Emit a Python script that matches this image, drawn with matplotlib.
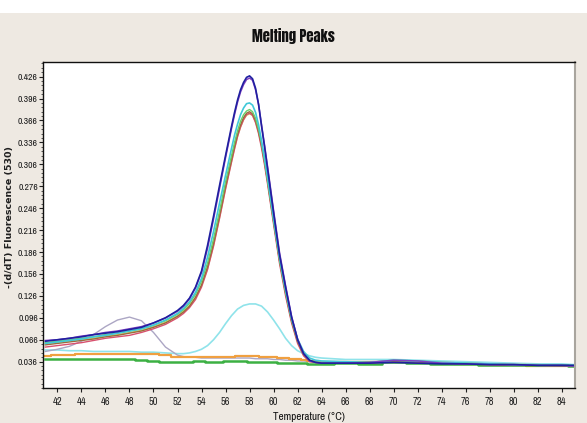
import matplotlib
matplotlib.use("Agg")
import matplotlib.pyplot as plt
from matplotlib import font_manager
from matplotlib.patches import Rectangle
from matplotlib.ticker import AutoMinorLocator

# ---- data -------------------------------------------------------------
# finer temperature grid for the melting-peak curves
temp_peak = [41, 42, 43, 44, 45, 46, 47, 48, 49, 50, 51, 52,
             52.5, 53, 53.5, 54, 54.5, 55, 55.5, 56, 56.5,
             56.75, 57, 57.25, 57.5, 57.75, 58, 58.25, 58.5, 58.75, 59, 59.25,
             59.5, 60, 60.5, 61, 61.5, 62, 62.5, 63, 63.5, 64,
             66, 68, 70, 72, 74, 76, 78, 80, 82, 84, 85]

navy = [0.064, 0.066, 0.068, 0.070, 0.073, 0.075, 0.077, 0.080, 0.083, 0.089, 0.096, 0.106,
        0.113, 0.123, 0.138, 0.160, 0.195, 0.235, 0.277, 0.318, 0.358,
        0.377, 0.394, 0.408, 0.418, 0.425, 0.427, 0.423, 0.410, 0.388, 0.358, 0.330,
        0.300, 0.240, 0.182, 0.138, 0.097, 0.066, 0.047, 0.038, 0.035, 0.034,
        0.034, 0.034, 0.035, 0.034, 0.033, 0.033, 0.032, 0.032, 0.031, 0.031, 0.031]

purple = [0.065, 0.066, 0.068, 0.071, 0.073, 0.076, 0.078, 0.081, 0.084, 0.089, 0.096, 0.105,
          0.112, 0.122, 0.137, 0.158, 0.191, 0.231, 0.273, 0.315, 0.355,
          0.374, 0.391, 0.405, 0.415, 0.422, 0.424, 0.421, 0.408, 0.388, 0.360, 0.332,
          0.303, 0.243, 0.185, 0.140, 0.098, 0.067, 0.047, 0.037, 0.035, 0.034,
          0.034, 0.035, 0.038, 0.037, 0.034, 0.033, 0.032, 0.032, 0.031, 0.031, 0.030]

cyan = [0.061, 0.063, 0.065, 0.067, 0.070, 0.072, 0.075, 0.078, 0.081, 0.086, 0.093, 0.102,
        0.109, 0.118, 0.131, 0.150, 0.179, 0.214, 0.253, 0.291, 0.328,
        0.346, 0.361, 0.374, 0.383, 0.389, 0.390, 0.387, 0.377, 0.360, 0.338, 0.314,
        0.288, 0.232, 0.178, 0.134, 0.095, 0.067, 0.050, 0.041, 0.038, 0.037,
        0.036, 0.035, 0.038, 0.037, 0.035, 0.034, 0.033, 0.032, 0.031, 0.031, 0.031]

brown = [0.059, 0.061, 0.063, 0.065, 0.067, 0.070, 0.072, 0.075, 0.078, 0.083, 0.089, 0.098,
         0.104, 0.112, 0.124, 0.141, 0.166, 0.198, 0.236, 0.276, 0.313,
         0.331, 0.347, 0.360, 0.370, 0.376, 0.378, 0.375, 0.366, 0.351, 0.332, 0.309,
         0.283, 0.228, 0.174, 0.130, 0.092, 0.064, 0.046, 0.037, 0.035, 0.034,
         0.034, 0.035, 0.037, 0.036, 0.034, 0.033, 0.032, 0.031, 0.031, 0.030, 0.030]

rose = [0.056, 0.058, 0.060, 0.062, 0.065, 0.068, 0.070, 0.072, 0.076, 0.081, 0.087, 0.096,
        0.102, 0.110, 0.121, 0.138, 0.162, 0.194, 0.232, 0.272, 0.309,
        0.327, 0.344, 0.357, 0.367, 0.374, 0.376, 0.373, 0.363, 0.348, 0.328, 0.305,
        0.279, 0.224, 0.170, 0.126, 0.089, 0.061, 0.044, 0.036, 0.035, 0.034,
        0.035, 0.034, 0.037, 0.036, 0.034, 0.033, 0.032, 0.031, 0.031, 0.030, 0.030]

olive = [0.060, 0.062, 0.064, 0.066, 0.068, 0.071, 0.073, 0.076, 0.079, 0.084, 0.090, 0.099,
         0.105, 0.113, 0.124, 0.140, 0.163, 0.195, 0.233, 0.273, 0.310,
         0.328, 0.344, 0.357, 0.367, 0.373, 0.375, 0.373, 0.364, 0.350, 0.331, 0.308,
         0.282, 0.227, 0.173, 0.129, 0.091, 0.063, 0.045, 0.037, 0.035, 0.034,
         0.035, 0.034, 0.036, 0.035, 0.034, 0.033, 0.032, 0.031, 0.031, 0.030, 0.030]

lime = [0.062, 0.064, 0.066, 0.068, 0.070, 0.073, 0.075, 0.078, 0.081, 0.086, 0.092, 0.101,
        0.107, 0.116, 0.128, 0.146, 0.171, 0.204, 0.242, 0.282, 0.318,
        0.336, 0.352, 0.365, 0.374, 0.379, 0.381, 0.378, 0.369, 0.354, 0.335, 0.311,
        0.284, 0.229, 0.175, 0.131, 0.093, 0.065, 0.047, 0.038, 0.036, 0.035,
        0.035, 0.035, 0.038, 0.037, 0.035, 0.034, 0.033, 0.032, 0.032, 0.031, 0.031]

# coarser grid for the low, flat curves
temperature = [41, 42, 43, 44, 45, 46, 47, 48, 49, 50, 51, 52,
               52.5, 53, 53.5, 54, 54.5, 55, 55.5, 56, 56.5, 57, 57.5, 58,
               58.5, 59, 59.5, 60, 60.5, 61, 61.5, 62, 62.5, 63, 63.5, 64,
               66, 68, 70, 72, 74, 76, 78, 80, 82, 84, 85]

lilac = [0.050, 0.053, 0.057, 0.064, 0.073, 0.084, 0.093, 0.097, 0.092, 0.076, 0.056, 0.045,
         0.043, 0.042, 0.042, 0.041, 0.041, 0.041, 0.041, 0.041, 0.041, 0.041, 0.041, 0.041,
         0.040, 0.040, 0.040, 0.039, 0.039, 0.038, 0.038, 0.037, 0.037, 0.036, 0.036, 0.036,
         0.036, 0.036, 0.037, 0.036, 0.035, 0.034, 0.033, 0.032, 0.032, 0.031, 0.031]

pale_cyan = [0.052, 0.052, 0.051, 0.051, 0.050, 0.050, 0.050, 0.050, 0.049, 0.049, 0.048, 0.047,
             0.047, 0.048, 0.050, 0.053, 0.058, 0.066, 0.076, 0.088, 0.099, 0.108, 0.113, 0.115,
             0.115, 0.112, 0.104, 0.093, 0.081, 0.068, 0.058, 0.051, 0.047, 0.044, 0.042, 0.041,
             0.039, 0.039, 0.039, 0.038, 0.037, 0.036, 0.035, 0.034, 0.033, 0.033, 0.032]

orange = [0.044, 0.045, 0.045, 0.046, 0.046, 0.046, 0.046, 0.046, 0.046, 0.046, 0.045, 0.043,
          0.043, 0.043, 0.043, 0.043, 0.043, 0.043, 0.043, 0.043, 0.043, 0.044, 0.044, 0.044,
          0.044, 0.043, 0.043, 0.042, 0.041, 0.041, 0.040, 0.039, 0.038, 0.037, 0.037, 0.036,
          0.036, 0.035, 0.036, 0.035, 0.034, 0.033, 0.032, 0.031, 0.030, 0.030, 0.030]

green = [0.040, 0.040, 0.040, 0.039, 0.039, 0.039, 0.039, 0.039, 0.038, 0.037, 0.036, 0.036,
         0.036, 0.036, 0.037, 0.037, 0.036, 0.036, 0.036, 0.037, 0.037, 0.037, 0.037, 0.036,
         0.036, 0.035, 0.035, 0.035, 0.034, 0.034, 0.034, 0.034, 0.034, 0.033, 0.033, 0.033,
         0.034, 0.033, 0.035, 0.034, 0.033, 0.033, 0.032, 0.031, 0.031, 0.031, 0.030]

x_ticks = list(range(42, 85, 2))
y_ticks = [0.036, 0.066, 0.096, 0.126, 0.156, 0.186, 0.216, 0.246,
           0.276, 0.306, 0.336, 0.366, 0.396, 0.426]

# ---- fonts ------------------------------------------------------------
installed = {f.name for f in font_manager.fontManager.ttflist}


def pick(candidates, default="DejaVu Sans"):
    for name in candidates:
        if name in installed:
            return name
    return default


narrow = pick(["Arial Narrow", "Liberation Sans Narrow", "Archivo Narrow",
               "PT Sans Narrow", "IBM Plex Sans Condensed", "Roboto Condensed",
               "Open Sans Condensed"])
heavy = pick(["Impact", "Anton", "IBM Plex Sans Condensed"], narrow)

# ---- figure -----------------------------------------------------------
fig = plt.figure(figsize=(5.87, 4.23), dpi=100, facecolor="white")
fig.patches.append(Rectangle((0, 0), 1, 1 - 13 / 423, transform=fig.transFigure,
                             facecolor="#eee9e2", edgecolor="none", zorder=-10))

ax = fig.add_axes([43 / 587, 35 / 423, (575 - 43) / 587, (388 - 62) / 423])
ax.set_facecolor("white")

low_series = [
    (pale_cyan, "#8fe3ea", 1.2, "default"),
    (lilac, "#aca6c4", 1.0, "default"),
    (orange, "#f0a040", 1.6, "steps-mid"),
    (green, "#3cb043", 1.8, "steps-mid"),
]
for values, color, lw, style in low_series:
    ax.plot(temperature, values, color=color, lw=lw, drawstyle=style)

peak_series = [
    (olive, "#d2cf6a", 1.0),
    (rose, "#d8506e", 1.0),
    (brown, "#9c6a3c", 1.0),
    (lime, "#6ad06a", 1.0),
    (cyan, "#40c8d8", 1.2),
    (purple, "#8040c0", 1.1),
    (navy, "#2020a0", 1.2),
]
for values, color, lw in peak_series:
    ax.plot(temp_peak, values, color=color, lw=lw, solid_joinstyle="round")

ax.set_xlim(40.8, 85.1)
ax.set_ylim(0.0, 0.446)
ax.set_xticks(x_ticks)
ax.set_xticklabels([str(t) for t in x_ticks])
ax.set_yticks(y_ticks)
ax.set_yticklabels([f"{v:.3f}" for v in y_ticks])
ax.yaxis.set_minor_locator(AutoMinorLocator(5))

ax.tick_params(axis="both", which="major", direction="out", length=3, width=0.8,
               labelsize=7.5, colors="#202020")
ax.tick_params(axis="x", which="major", pad=3.5)
ax.tick_params(axis="y", which="major", pad=0.6, labelsize=7)
ax.tick_params(axis="y", which="minor", direction="out", length=1.5, width=0.6,
               colors="#404040")
for lab in ax.get_xticklabels() + ax.get_yticklabels():
    lab.set_family(narrow)

for side in ("left", "bottom", "top"):
    ax.spines[side].set_color("#101010")
    ax.spines[side].set_linewidth(1.0)
ax.spines["right"].set_color("#a9a59e")
ax.spines["right"].set_linewidth(1.5)

fig.text(293 / 587, 1 - 36 / 423, "Melting Peaks", ha="center", va="center",
         fontsize=10.5, fontweight="bold", family=heavy, color="#101010")
fig.text(309 / 587, 1 - 417 / 423, "Temperature (°C)", ha="center", va="center",
         fontsize=8, family=narrow, color="#101010")
fig.text(10 / 587, 1 - 217 / 423, "-(d/dT) Fluorescence (530)", ha="center", va="center",
         rotation=90, fontsize=6.8, fontweight="bold", family="DejaVu Sans",
         color="#202020")

fig.savefig("out.png", dpi=100, facecolor=fig.get_facecolor())
